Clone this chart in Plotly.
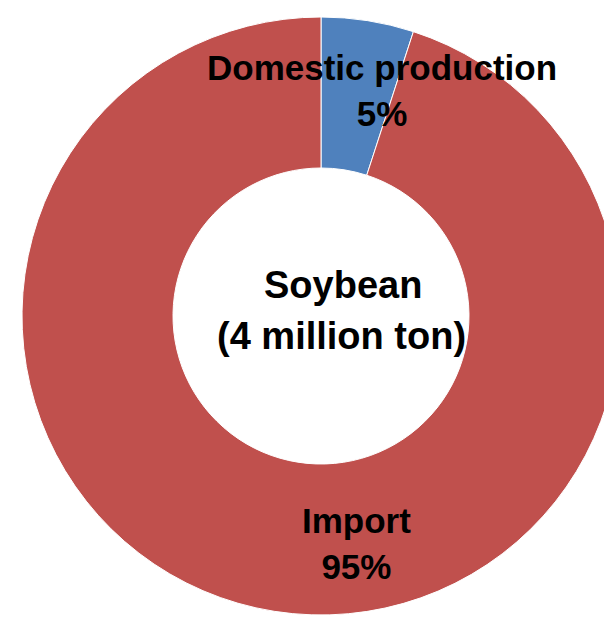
import plotly.graph_objects as go

labels = ["Domestic production", "Import"]
values = [5, 95]
colors = ["#4F81BD", "#C0504D"]
center_title = "Soybean"
center_subtitle = "(4 million ton)"

W, H = 640, 618
CX, CY, R = 321, 316, 299

fig = go.Figure(go.Pie(
    labels=labels,
    values=values,
    sort=False,
    direction="clockwise",
    rotation=0,
    hole=0.495,
    textinfo="none",
    hoverinfo="label+percent",
    marker=dict(colors=colors, line=dict(color="white", width=1)),
    domain=dict(x=[(CX - R) / W, (CX + R) / W], y=[1 - (CY + R) / H, 1 - (CY - R) / H]),
))

font = dict(family="Liberation Sans, Arial, sans-serif", size=35, color="black")

def px(x, y):
    return dict(x=x / W, y=1 - y / H, xref="paper", yref="paper",
                xanchor="center", yanchor="middle", showarrow=False)

pct = [round(100 * v / sum(values)) for v in values]
fig.add_annotation(text=f"<b>{labels[0]}<br>{pct[0]}%</b>", font=font, **px(382, 91))
fig.add_annotation(text=f"<b>{labels[1]}<br>{pct[1]}%</b>", font=font, **px(356, 543))
fig.add_annotation(text=f"<b>{center_title}</b>", font=dict(font, size=38), **px(343, 285))
fig.add_annotation(text=f"<b>{center_subtitle}</b>", font=dict(font, size=38), **px(341, 336))

fig.update_layout(
    width=W, height=H,
    margin=dict(l=0, r=0, t=0, b=0),
    showlegend=False,
    paper_bgcolor="white",
    plot_bgcolor="white",
)

fig.write_html("out.html", config={"displayModeBar": False},
               post_script="document.body.style.margin='0';document.body.style.overflow='hidden';")
